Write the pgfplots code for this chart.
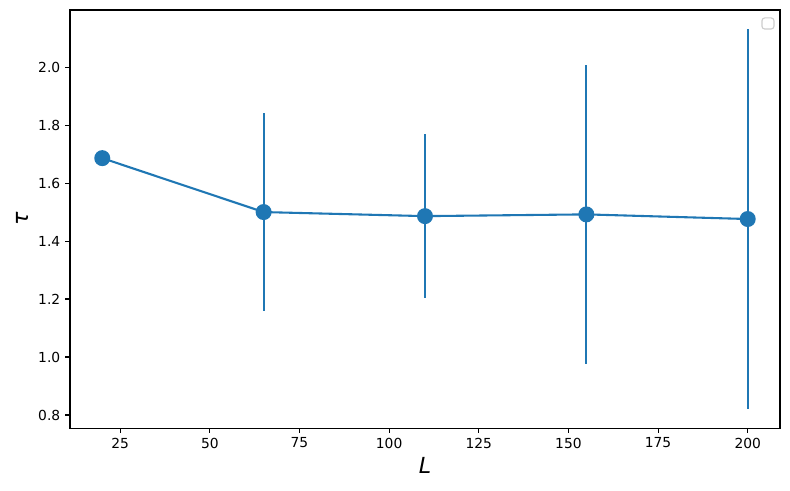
\documentclass[border=0pt]{standalone}
\usepackage{pgfplots}
\pgfplotsset{compat=1.18}
\usepackage{fontspec}
\setmainfont{DejaVu Sans}
\definecolor{mplblue}{HTML}{1F77B4}

\begin{document}
\begin{tikzpicture}[x=1bp,y=1bp]
\begin{axis}[
  scale only axis, width=511.2bp, height=301bp,
  xmin=11, xmax=209, ymin=0.755, ymax=2.197,
  xtick={25,50,...,200}, ytick={0.8,1.0,...,2.0},
  yticklabel style={/pgf/number format/fixed, /pgf/number format/fixed zerofill, /pgf/number format/precision=1},
  /pgf/number format/assume math mode=true,
  ticklabel style={font=\fontsize{10}{12}\selectfont},
  tick align=outside, major tick length=3.5bp, tick style={black, line width=0.8bp},
  axis line style={line width=0.8bp},
  xtick pos=bottom, ytick pos=left,
  xlabel={\fontsize{16}{19}\selectfont\textit{L}},
  ylabel={\fontsize{16}{19}\selectfont\textit{τ}},
]
\addplot[mplblue, line width=1.5bp, mark=*, mark size=5bp,
  error bars/.cd, y dir=both, y explicit, error mark=none,
  error bar style={line width=1.5bp, mplblue}]
  coordinates {
    (20,1.686)  +- (0,0)
    (65,1.500)  +- (0,0.340)
    (110,1.486) +- (0,0.283)
    (155,1.492) +- (0,0.515)
    (200,1.476) +- (0,0.655)
  };
% empty legend box, as in the reference
\draw[black!20, line width=0.8bp, rounded corners=2bp]
  (rel axis cs:0.9746,0.9545) rectangle (rel axis cs:0.9915,0.981);
\end{axis}
\path (current axis.south west) ++(-50.4bp,-44.6bp) coordinate (bbsw);
\path (current axis.north east) ++(7.2bp,7.2bp) coordinate (bbne);
\path (bbsw) rectangle (bbne);
\end{tikzpicture}
\end{document}
